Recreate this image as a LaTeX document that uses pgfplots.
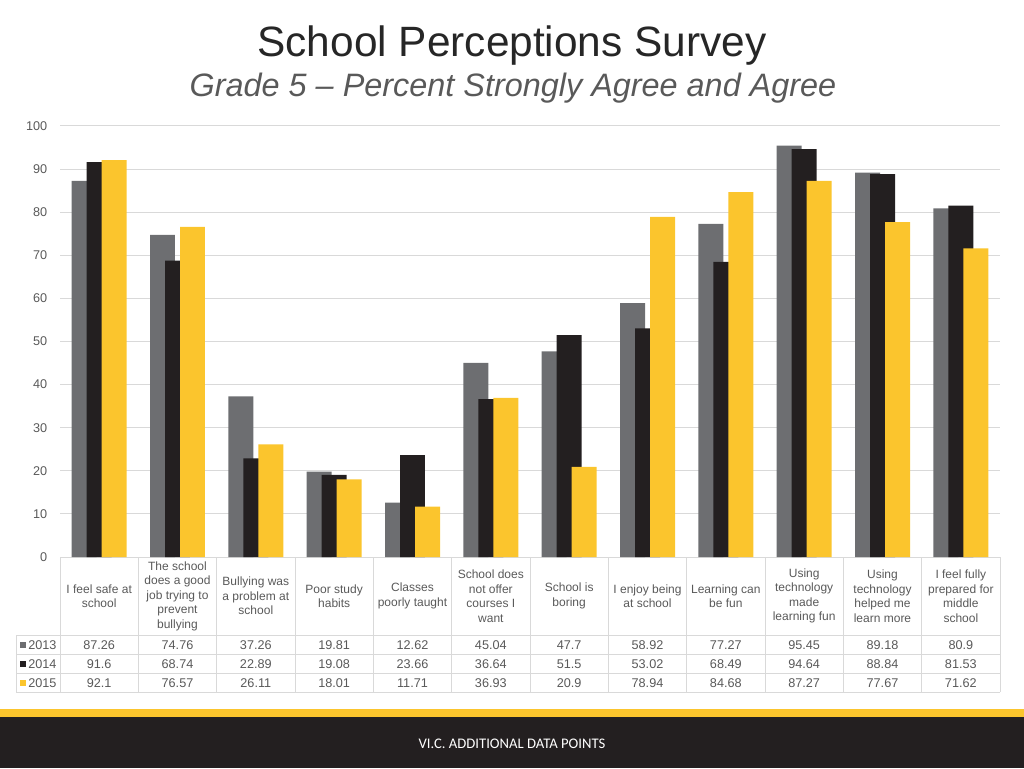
\documentclass[border=0pt]{standalone}
\usepackage{pgfplots}
\pgfplotsset{compat=1.18}
\usepackage{fontspec}
\setmainfont{Liberation Sans}
\newfontfamily\footfont{Carlito}
\definecolor{bargray}{HTML}{6D6E71}
\definecolor{barblack}{HTML}{231F20}
\definecolor{baryellow}{HTML}{FBC52D}
\definecolor{gridgray}{HTML}{D9D9D9}
\definecolor{txtgray}{HTML}{595959}

\begin{document}
\begin{tikzpicture}[x=0.75pt,y=0.75pt]
% coordinates: (pixel x, 768 - pixel y)
\path (0,0) rectangle (1024,768);
% titles
\node[anchor=base, font=\fontsize{31.8}{36}\selectfont, text=black!85] at (512,711) {School Perceptions Survey};
\node[anchor=base, font=\fontsize{24.3}{28}\selectfont\itshape, text=black!65] at (513,671) {Grade 5 -- Percent Strongly Agree and Agree};

\begin{axis}[
  at={(60pt*0.75,211pt*0.75)}, anchor=south west,
  scale only axis, width=705pt, height=323.25pt,
  xmin=-0.5, xmax=11.5, ymin=0, ymax=100,
  ytick={0,10,...,100}, xtick={0,...,11},
  xticklabels={{I feel safe at\\school},{The school\\does a good\\job trying to\\prevent\\bullying},{Bullying was\\a problem at\\school},{Poor study\\habits},{Classes\\poorly taught},{School does\\not offer\\courses I\\want},{School is\\boring},{I enjoy being\\at school},{Learning can\\be fun},{Using\\technology\\made\\learning fun},{Using\\technology\\helped me\\learn more},{I feel fully\\prepared for\\middle\\school}},
  xticklabel style={align=center, anchor=center, yshift=-29.25pt, font=\fontsize{9}{10.9}\selectfont, text=txtgray},
  yticklabel style={xshift=-6pt, font=\fontsize{9.5}{11}\selectfont, text=txtgray},
  /pgf/number format/assume math mode=true,
  ymajorgrids, grid style={gridgray, line width=0.75pt},
  axis line style={draw=none}, major tick length=0pt, tick style={draw=none},
  clip=false,
]
\addplot[ybar, fill=bargray, draw=none, bar width=0.319, bar shift=-0.1915] coordinates {
(0,87.26) (1,74.76) (2,37.26) (3,19.81) (4,12.62) (5,45.04) (6,47.7) (7,58.92) (8,77.27) (9,95.45) (10,89.18) (11,80.9)};
\addplot[ybar, fill=barblack, draw=none, bar width=0.319, bar shift=0] coordinates {
(0,91.6) (1,68.74) (2,22.89) (3,19.08) (4,23.66) (5,36.64) (6,51.5) (7,53.02) (8,68.49) (9,94.64) (10,88.84) (11,81.53)};
\addplot[ybar, fill=baryellow, draw=none, bar width=0.319, bar shift=0.1915] coordinates {
(0,92.1) (1,76.57) (2,26.11) (3,18.01) (4,11.71) (5,36.93) (6,20.9) (7,78.94) (8,84.68) (9,87.27) (10,77.67) (11,71.62)};
\end{axis}

% data table
\foreach \k in {0,...,12} \draw[gridgray, line width=0.75pt] ({60+78.333*\k},211) -- ({60+78.333*\k},76);
\draw[gridgray, line width=0.75pt] (16,133) -- (16,76);
\foreach \yy in {133,114,95,76} \draw[gridgray, line width=0.75pt] (16,\yy) -- (1000,\yy);
\begin{scope}[every node/.style={font=\fontsize{9.5}{11}\selectfont, text=txtgray}]
\foreach \v [count=\i from 0] in {87.26,74.76,37.26,19.81,12.62,45.04,47.7,58.92,77.27,95.45,89.18,80.9}
  \node at ({60+78.333*(\i+0.5)},123) {\v};
\foreach \v [count=\i from 0] in {91.6,68.74,22.89,19.08,23.66,36.64,51.5,53.02,68.49,94.64,88.84,81.53}
  \node at ({60+78.333*(\i+0.5)},104) {\v};
\foreach \v [count=\i from 0] in {92.1,76.57,26.11,18.01,11.71,36.93,20.9,78.94,84.68,87.27,77.67,71.62}
  \node at ({60+78.333*(\i+0.5)},85) {\v};
\fill[bargray] (20,120) rectangle (26,126);
\fill[barblack] (20,101) rectangle (26,107);
\fill[baryellow] (20,82) rectangle (26,88);
\node[anchor=west, inner sep=0pt] at (28,123) {2013};
\node[anchor=west, inner sep=0pt] at (28,104) {2014};
\node[anchor=west, inner sep=0pt] at (28,85) {2015};
\end{scope}

% footer
\fill[baryellow] (0,51) rectangle (1024,59);
\fill[barblack] (0,0) rectangle (1024,51);
\node[text=white, font=\footfont\fontsize{11}{13}\selectfont] at (512,24) {VI.C. ADDITIONAL DATA POINTS};
\end{tikzpicture}
\end{document}
